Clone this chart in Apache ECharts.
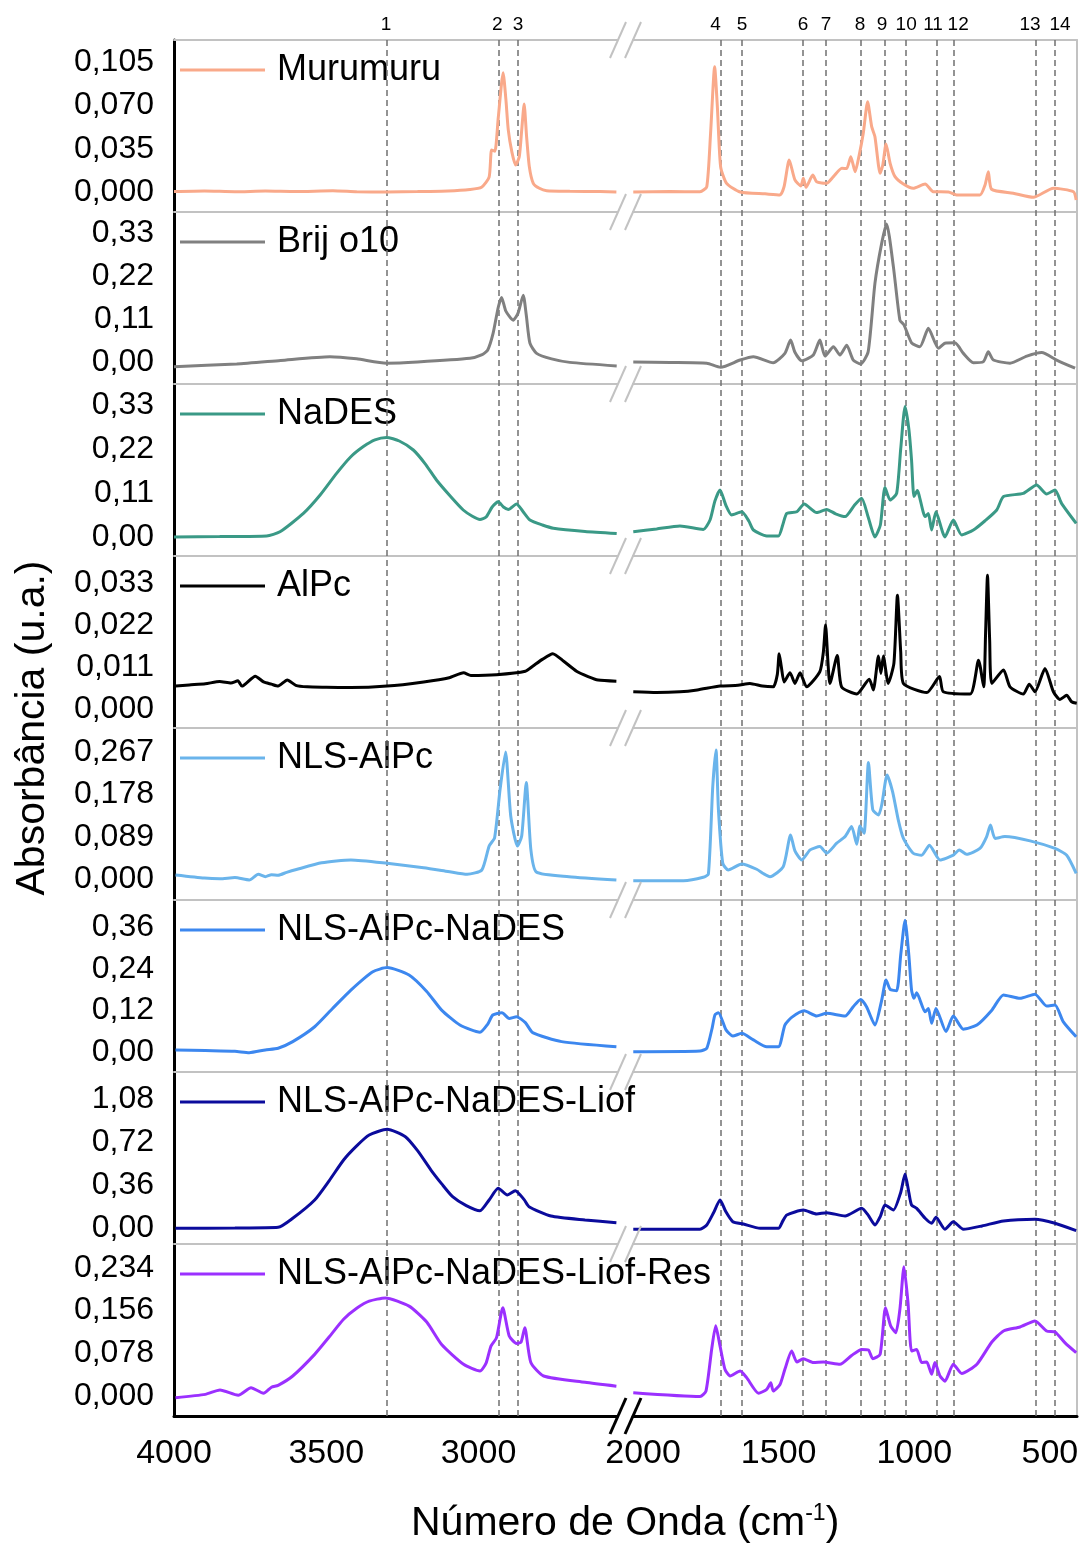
<!DOCTYPE html>
<html>
<head>
<meta charset="utf-8">
<script src="https://cdn.jsdelivr.net/npm/echarts@6/dist/echarts.min.js"></script>
<style>html,body{margin:0;padding:0;background:#fff}#chart{width:1082px;height:1546px}</style>
</head>
<body>
<div id="chart"></div>
<script>
// ---------- DATA (wavenumber cm-1, absorbance u.a.) ----------
const seriesNames = ['Murumuru','Brij o10','NaDES','AlPc','NLS-AlPc','NLS-AlPc-NaDES','NLS-AlPc-NaDES-Liof','NLS-AlPc-NaDES-Liof-Res'];

const murumuruL = [[4000,0.0003],[3900,0.0008],[3800,0.0002],[3700,0.0007],[3600,0.0003],[3478,0.001],[3400,0.0002],[3300,0.0],[3200,0.0003],[3100,0.0008],[3028,0.002],[2990,0.0038],[2965,0.012],[2957,0.034],[2946,0.033],[2935,0.06],[2919,0.0965],[2910,0.075],[2902,0.05],[2890,0.032],[2878,0.0218],[2866,0.0285],[2858,0.05],[2850,0.0711],[2842,0.045],[2833,0.0205],[2820,0.007],[2800,0.003],[2776,0.001],[2700,0.0005],[2600,0.0003],[2547,0.0]];
const murumuruR = [[2036,0],[1900,0.0003],[1790,0.0002],[1765,0.0043],[1751,0.0474],[1736,0.1013],[1726,0.069],[1714,0.0205],[1692,0.007],[1642,0],[1550,-0.0015],[1495,-0.0024],[1480,0.0043],[1461,0.0259],[1440,0.0097],[1418,0.0049],[1409,0.011],[1399,0.0038],[1374,0.0137],[1360,0.0083],[1323,0.007],[1298,0.0124],[1267,0.0191],[1249,0.019],[1234,0.0285],[1218,0.0164],[1203,0.0299],[1188,0.0474],[1172,0.073],[1157,0.0528],[1145,0.0447],[1126,0.0151],[1116,0.0218],[1104,0.0388],[1089,0.0232],[1071,0.0124],[1040,0.0065],[1004,0.003],[960,0.0065],[930,0.0002],[874,0],[844,-0.0024],[758,-0.0024],[739,0.0057],[727,0.0164],[715,0.0022],[635,-0.001],[561,-0.0043],[487,0.003],[413,0.0002],[403,-0.0065]];

const brijL = [[4000,-0.012],[3794,-0.005],[3650,0.004],[3488,0.0136],[3400,0.008],[3302,-0.003],[3200,0.0],[3028,0.0094],[2990,0.018],[2970,0.03],[2952,0.073],[2935,0.14],[2924,0.165],[2910,0.13],[2886,0.107],[2870,0.125],[2853,0.171],[2843,0.12],[2831,0.048],[2809,0.022],[2760,0.008],[2700,-0.001],[2546,-0.01]];
const brijR = [[2036,0],[1900,-0.001],[1765,-0.003],[1714,-0.0136],[1642,0.005],[1593,0.0136],[1520,-0.002],[1477,0.022],[1456,0.056],[1440,0.025],[1415,0.003],[1372,0.018],[1348,0.056],[1329,0.015],[1298,0.039],[1274,0.018],[1249,0.043],[1225,0.005],[1198,-0.005],[1170,0.026],[1145,0.201],[1120,0.304],[1102,0.353],[1077,0.244],[1053,0.107],[1038,0.095],[1010,0.049],[979,0.039],[948,0.086],[911,0.035],[887,0.048],[850,0.049],[819,0.022],[782,-0.002],[745,0.001],[727,0.026],[708,0.005],[647,-0.003],[585,0.015],[530,0.024],[475,0.005],[407,-0.016]];

const nadesL = [[4000,0],[3850,0.001],[3696,0.0025],[3652,0.013],[3575,0.059],[3520,0.105],[3466,0.159],[3420,0.2],[3378,0.226],[3340,0.243],[3302,0.249],[3260,0.24],[3214,0.2175],[3175,0.183],[3138,0.1425],[3090,0.1],[3050,0.0675],[3020,0.052],[2995,0.044],[2975,0.05],[2955,0.075],[2935,0.088],[2918,0.075],[2902,0.069],[2875,0.0825],[2855,0.065],[2831,0.0425],[2790,0.03],[2754,0.022],[2650,0.014],[2546,0.009]];
const nadesR = [[2036,0.013],[1950,0.02],[1864,0.0275],[1778,0.019],[1753,0.0425],[1735,0.09],[1716,0.1175],[1695,0.08],[1673,0.055],[1636,0.063],[1610,0.04],[1593,0.0175],[1544,0.0025],[1501,0.0025],[1485,0.03],[1470,0.059],[1433,0.063],[1406,0.0825],[1360,0.061],[1323,0.069],[1290,0.058],[1255,0.051],[1220,0.08],[1194,0.097],[1170,0.05],[1145,0],[1125,0.03],[1108,0.124],[1089,0.0925],[1065,0.109],[1050,0.22],[1034,0.326],[1020,0.27],[1010,0.1925],[1001,0.101],[989,0.116],[960,0.051],[948,0.059],[936,0.0175],[920,0.063],[887,0],[856,0.0425],[825,0.005],[782,0.0175],[740,0.04],[696,0.0675],[671,0.101],[598,0.109],[549,0.13],[512,0.1075],[481,0.1175],[457,0.084],[403,0.034]];

const alpcL = [[3995,0.006],[3950,0.0063],[3897,0.0066],[3850,0.0072],[3813,0.0068],[3790,0.0074],[3777,0.006],[3733,0.0086],[3706,0.0071],[3680,0.0065],[3658,0.006],[3628,0.0076],[3600,0.0062],[3562,0.0058],[3500,0.0057],[3419,0.0056],[3300,0.006],[3180,0.0071],[3096,0.0082],[3049,0.0095],[3025,0.0088],[2941,0.009],[2846,0.0099],[2822,0.0112],[2790,0.013],[2756,0.0145],[2720,0.0125],[2678,0.0099],[2640,0.0085],[2607,0.0076],[2547,0.0073]];
const alpcR = [[2036,0.0045],[1950,0.0043],[1864,0.0045],[1800,0.005],[1716,0.006],[1650,0.0062],[1606,0.0067],[1560,0.006],[1520,0.0058],[1505,0.009],[1498,0.0145],[1490,0.011],[1480,0.0071],[1458,0.0095],[1440,0.0067],[1421,0.0095],[1397,0.0058],[1348,0.0098],[1335,0.015],[1327,0.022],[1318,0.012],[1311,0.0067],[1284,0.014],[1268,0.0058],[1212,0.0039],[1166,0.0078],[1151,0.005],[1132,0.0139],[1123,0.0093],[1114,0.0139],[1096,0.0067],[1075,0.012],[1062,0.0298],[1050,0.015],[1040,0.0067],[954,0.0043],[907,0.0085],[893,0.0045],[794,0.0039],[763,0.0128],[744,0.0058],[737,0.02],[730,0.035],[722,0.018],[714,0.0067],[671,0.0102],[647,0.0058],[598,0.0039],[576,0.0065],[555,0.0045],[518,0.0106],[487,0.0045],[463,0.0025],[438,0.0036],[420,0.0019],[401,0.0015]];

const nlsL = [[3995,0.0094],[3900,0.003],[3849,0.0017],[3800,0.004],[3753,-0.001],[3723,0.011],[3700,0.006],[3680,0.01],[3658,0.009],[3630,0.015],[3598,0.021],[3515,0.035],[3419,0.041],[3300,0.034],[3180,0.0247],[3100,0.017],[3037,0.011],[2989,0.02],[2965,0.07],[2947,0.0875],[2929,0.189],[2911,0.267],[2894,0.133],[2872,0.07],[2858,0.091],[2843,0.203],[2828,0.063],[2810,0.0157],[2703,0.006],[2547,-0.001]];
const nlsR = [[2036,-0.0025],[1851,-0.0025],[1778,0.0046],[1759,0.0115],[1743,0.194],[1731,0.271],[1722,0.146],[1706,0.034],[1686,0.02],[1636,0.0325],[1581,0.0215],[1555,0.012],[1532,0.006],[1483,0.027],[1456,0.093],[1440,0.06],[1415,0.041],[1384,0.062],[1348,0.069],[1323,0.055],[1286,0.076],[1255,0.09],[1231,0.111],[1212,0.074],[1200,0.112],[1185,0.097],[1169,0.245],[1153,0.146],[1132,0.135],[1120,0.156],[1100,0.219],[1080,0.184],[1059,0.125],[1040,0.086],[1004,0.055],[973,0.051],[944,0.072],[905,0.041],[856,0.051],[834,0.062],[807,0.053],[758,0.065],[733,0.09],[719,0.114],[702,0.086],[666,0.09],[573,0.081],[481,0.065],[438,0.051],[403,0.013]];

const nlsNadesL = [[3995,0.006],[3897,0.004],[3800,0.002],[3753,-0.002],[3700,0.006],[3658,0.011],[3610,0.03],[3538,0.073],[3480,0.125],[3419,0.179],[3347,0.232],[3300,0.244],[3228,0.2225],[3170,0.175],[3121,0.121],[3061,0.078],[2995,0.057],[2970,0.08],[2953,0.107],[2923,0.1136],[2899,0.097],[2875,0.102],[2846,0.085],[2822,0.056],[2727,0.03],[2547,0.015]];
const nlsNadesR = [[2036,0.001],[1790,0.003],[1765,0.011],[1745,0.07],[1735,0.107],[1722,0.1136],[1694,0.064],[1669,0.046],[1636,0.054],[1593,0.035],[1544,0.015],[1501,0.015],[1477,0.078],[1452,0.1],[1406,0.119],[1360,0.104],[1323,0.112],[1255,0.104],[1225,0.131],[1198,0.152],[1176,0.131],[1145,0.078],[1120,0.15],[1104,0.208],[1089,0.181],[1065,0.177],[1050,0.28],[1034,0.381],[1020,0.28],[1010,0.179],[1001,0.155],[991,0.171],[960,0.116],[948,0.126],[936,0.083],[920,0.126],[883,0.059],[856,0.104],[819,0.066],[769,0.078],[714,0.121],[671,0.165],[610,0.155],[555,0.167],[512,0.133],[481,0.136],[451,0.088],[403,0.044]];

const liofL = [[3995,0],[3800,0.002],[3658,0.008],[3610,0.084],[3538,0.237],[3490,0.4],[3443,0.572],[3400,0.69],[3359,0.781],[3300,0.829],[3240,0.767],[3200,0.65],[3156,0.488],[3120,0.37],[3085,0.265],[3040,0.19],[2995,0.147],[2965,0.237],[2935,0.335],[2905,0.279],[2879,0.315],[2850,0.24],[2834,0.181],[2762,0.103],[2650,0.07],[2547,0.047]];
const liofR = [[2036,-0.008],[1790,-0.008],[1765,0.028],[1740,0.13],[1716,0.237],[1695,0.14],[1669,0.055],[1630,0.036],[1568,0],[1501,0],[1485,0.06],[1470,0.111],[1409,0.153],[1360,0.12],[1323,0.131],[1255,0.103],[1194,0.167],[1170,0.11],[1145,0.028],[1125,0.1],[1108,0.195],[1077,0.153],[1050,0.3],[1034,0.455],[1020,0.3],[1010,0.195],[991,0.167],[960,0.084],[936,0.042],[920,0.092],[887,-0.008],[856,0.055],[819,-0.008],[750,0.02],[671,0.061],[555,0.075],[481,0.042],[403,-0.02]];

const resL = [[3995,-0.003],[3897,0.003],[3849,0.011],[3789,0.0013],[3747,0.015],[3706,0.005],[3680,0.016],[3658,0.0195],[3610,0.0365],[3538,0.076],[3490,0.108],[3443,0.14],[3400,0.16],[3359,0.173],[3306,0.179],[3228,0.164],[3170,0.135],[3121,0.094],[3049,0.058],[2995,0.0456],[2975,0.06],[2959,0.091],[2941,0.106],[2920,0.161],[2899,0.1095],[2875,0.096],[2860,0.0985],[2848,0.1247],[2828,0.061],[2786,0.0365],[2650,0.025],[2547,0.018]];
const resR = [[2036,0.006],[1790,-0.001],[1768,0.009],[1747,0.085],[1732,0.128],[1716,0.091],[1698,0.0487],[1679,0.0365],[1642,0.0456],[1618,0.0335],[1574,0.005],[1544,0.012],[1529,0.024],[1520,0.009],[1495,0.021],[1477,0.0487],[1452,0.082],[1433,0.062],[1409,0.068],[1372,0.061],[1335,0.062],[1274,0.058],[1231,0.074],[1194,0.085],[1169,0.084],[1153,0.068],[1126,0.076],[1106,0.161],[1087,0.128],[1068,0.1155],[1053,0.158],[1038,0.236],[1023,0.17],[1010,0.082],[991,0.085],[973,0.061],[954,0.062],[936,0.0396],[924,0.061],[905,0.0365],[887,0.027],[856,0.058],[825,0.041],[769,0.058],[714,0.0985],[671,0.1186],[610,0.126],[555,0.137],[512,0.1186],[481,0.117],[444,0.097],[403,0.079]];

// tick labels
const ticksMurumuru = [0, 0.035, 0.070, 0.105];
const ticksBrij = [0, 0.11, 0.22, 0.33];
const ticksNades = [0, 0.11, 0.22, 0.33];
const ticksAlpc = [0, 0.011, 0.022, 0.033];
const ticksNls = [0, 0.089, 0.178, 0.267];
const ticksNlsNades = [0, 0.12, 0.24, 0.36];
const ticksLiof = [0, 0.36, 0.72, 1.08];
const ticksRes = [0, 0.078, 0.156, 0.234];
const xTicksLeft = [4000, 3500, 3000];
const xTicksRight = [2000, 1500, 1000, 500];

// marked bands
const peaksL = [3300, 2932, 2870];
const peakLabelsL = ['1', '2', '3'];
const peaksR = [1714, 1635, 1410, 1325, 1196, 1108, 1030, 916, 853, 551, 481];
const peakLabelsR = ['4','5','6','7','8','9','10','11','12','13','14'];

// ---------- LAYOUT / STYLE ----------
const FONT = "'Liberation Sans', Arial, sans-serif";
const GREY = '#c2c2c2';
const PANEL_TOP = 40, PANEL_H = 172;
const LEFT_X = 174, LEFT_W = 443, RIGHT_X = 633, RIGHT_W = 444;
const L_MIN = 2545, L_MAX = 4000, R_MIN = 400, R_MAX = 2037;
// horizontal nudges of the band numbers (as in the figure)
const labelShiftL = [-1, -2, 0];
const labelShiftR = [-5, 0, 0, 0, -1, -3, 0, -4, 4, -6, 5];

const panels = [
  {name: seriesNames[0], color: '#F9A98A', L: murumuruL, R: murumuruR, min: -0.0162, max: 0.1229, ticks: ticksMurumuru, dec: 3},
  {name: seriesNames[1], color: '#808080', L: brijL, R: brijR, min: -0.0563, max: 0.3836, ticks: ticksBrij, dec: 2},
  {name: seriesNames[2], color: '#3A9986', L: nadesL, R: nadesR, min: -0.0475, max: 0.3825, ticks: ticksNades, dec: 2},
  {name: seriesNames[3], color: '#000000', L: alpcL, R: alpcR, min: -0.004976, max: 0.04007, ticks: ticksAlpc, dec: 3},
  {name: seriesNames[4], color: '#6AB4EB', L: nlsL, R: nlsR, min: -0.0429, max: 0.3173, ticks: ticksNls, dec: 3},
  {name: seriesNames[5], color: '#3C87EF', L: nlsNadesL, R: nlsNadesR, min: -0.0578, max: 0.4393, ticks: ticksNlsNades, dec: 2},
  {name: seriesNames[6], color: '#0B0B9C', L: liofL, R: liofR, min: -0.1315, max: 1.309, ticks: ticksLiof, dec: 2},
  {name: seriesNames[7], color: '#9B30FF', L: resL, R: resR, min: -0.0365, max: 0.2774, ticks: ticksRes, dec: 3}
];

const option = {
  animation: false,
  backgroundColor: '#ffffff',
  textStyle: {fontFamily: FONT},
  grid: [], xAxis: [], yAxis: [], series: [], legend: [], graphic: [],
  title: {
    text: 'Número de Onda (cm{s|-1})',
    left: 406, top: 1497,
    textStyle: {fontSize: 41, fontWeight: 'normal', color: '#000', fontFamily: FONT,
      rich: {s: {fontSize: 23, fontFamily: FONT, color: '#000', verticalAlign: 'top', padding: [0, 0, 20, 0]}}}
  }
};

panels.forEach((p, i) => {
  const top = PANEL_TOP + PANEL_H * i;
  const last = i === panels.length - 1;
  const gl = 2 * i, gr = 2 * i + 1;
  option.grid.push({left: LEFT_X, top: top, width: LEFT_W, height: PANEL_H});
  option.grid.push({left: RIGHT_X, top: top, width: RIGHT_W, height: PANEL_H});
  const axisLine = {show: true, onZero: false, lineStyle: {color: last ? '#000' : GREY, width: last ? 3 : 2}};
  const xLab = (vals) => ({show: last, customValues: vals, fontSize: 34, color: '#000', margin: 21, fontFamily: FONT,
    hideOverlap: false, formatter: (v) => String(Math.round(v))});
  option.xAxis.push({gridIndex: gl, type: 'value', inverse: true, min: L_MIN, max: L_MAX, position: 'bottom',
    axisLine: axisLine, axisTick: {show: false}, splitLine: {show: false}, axisLabel: xLab(xTicksLeft)});
  option.xAxis.push({gridIndex: gr, type: 'value', inverse: true, min: R_MIN, max: R_MAX, position: 'bottom',
    axisLine: axisLine, axisTick: {show: false}, splitLine: {show: false}, axisLabel: xLab(xTicksRight)});
  option.yAxis.push({gridIndex: gl, type: 'value', min: p.min, max: p.max,
    axisLine: {show: false, onZero: false}, axisTick: {show: false}, splitLine: {show: false},
    axisLabel: {customValues: p.ticks, fontSize: 32, color: '#000', margin: 20, fontFamily: FONT,
      formatter: (v) => Number(v).toFixed(p.dec).replace('.', ',')}});
  option.yAxis.push({gridIndex: gr, type: 'value', min: p.min, max: p.max, show: false});
  const common = {type: 'line', name: p.name, symbol: 'none', showSymbol: false, z: 5, smooth: 0.2,
    lineStyle: {color: p.color, width: 3}, itemStyle: {color: p.color}, silent: true};
  option.series.push(Object.assign({}, common, {xAxisIndex: gl, yAxisIndex: gl, data: p.L}));
  option.series.push(Object.assign({}, common, {xAxisIndex: gr, yAxisIndex: gr, data: p.R}));
  option.legend.push({data: [p.name], left: 180, top: top + 12, icon: 'rect', itemWidth: 85, itemHeight: 3,
    selectedMode: false, padding: 0,
    textStyle: {fontSize: 36, color: '#000', fontFamily: FONT, padding: [0, 0, 0, 7]}});
});

// overlay grids: frame + marked band lines
option.grid.push({left: LEFT_X, top: PANEL_TOP, width: LEFT_W, height: PANEL_H * 8});
option.grid.push({left: RIGHT_X, top: PANEL_TOP, width: RIGHT_W, height: PANEL_H * 8});
option.xAxis.push({gridIndex: 16, type: 'value', inverse: true, min: L_MIN, max: L_MAX, position: 'top',
  axisLine: {show: true, onZero: false, lineStyle: {color: GREY, width: 2}}, axisTick: {show: false}, axisLabel: {show: false}, splitLine: {show: false}});
option.xAxis.push({gridIndex: 17, type: 'value', inverse: true, min: R_MIN, max: R_MAX, position: 'top',
  axisLine: {show: true, onZero: false, lineStyle: {color: GREY, width: 2}}, axisTick: {show: false}, axisLabel: {show: false}, splitLine: {show: false}});
option.yAxis.push({gridIndex: 16, type: 'value', min: 0, max: 1, position: 'left',
  axisLine: {show: true, onZero: false, lineStyle: {color: '#000', width: 3}}, axisTick: {show: false}, axisLabel: {show: false}, splitLine: {show: false},
  name: 'Absorbância (u.a.)', nameLocation: 'middle', nameGap: 121, nameRotate: 90,
  nameTextStyle: {fontSize: 41, color: '#000', fontFamily: FONT}});
option.yAxis.push({gridIndex: 17, type: 'value', min: 0, max: 1, position: 'right',
  axisLine: {show: true, onZero: false, lineStyle: {color: GREY, width: 2}}, axisTick: {show: false}, axisLabel: {show: false}, splitLine: {show: false}});

function bandSeries(axisIdx, values, labels, shifts) {
  return {type: 'line', xAxisIndex: axisIdx, yAxisIndex: axisIdx, data: [], z: 1, silent: true,
    markLine: {symbol: ['none', 'none'], silent: true, animation: false,
      lineStyle: {type: [6, 4], color: '#707070', width: 1.5},
      label: {show: true, position: 'end', formatter: '{b}', fontSize: 19, color: '#000', fontFamily: FONT, distance: 6},
      data: values.map((w, k) => ({xAxis: w, name: labels[k], label: {offset: [shifts[k], 0]}}))}};
}
option.series.push(bandSeries(16, peaksL, peakLabelsL, labelShiftL));
option.series.push(bandSeries(17, peaksR, peakLabelsR, labelShiftR));

// axis-break marks
for (let k = 0; k <= 8; k++) {
  const y = PANEL_TOP + PANEL_H * k;
  const bottom = k === 8;
  const col = bottom ? '#000' : GREY, lw = bottom ? 3 : 2;
  option.graphic.push({type: 'line', z: 100, shape: {x1: 610, y1: y + 18, x2: 626, y2: y - 18}, style: {stroke: col, lineWidth: lw}});
  option.graphic.push({type: 'line', z: 100, shape: {x1: 625, y1: y + 18, x2: 641, y2: y - 18}, style: {stroke: col, lineWidth: lw}});
}

const chart = echarts.init(document.getElementById('chart'), null, {renderer: 'canvas'});
chart.setOption(option);
</script>
</body>
</html>
